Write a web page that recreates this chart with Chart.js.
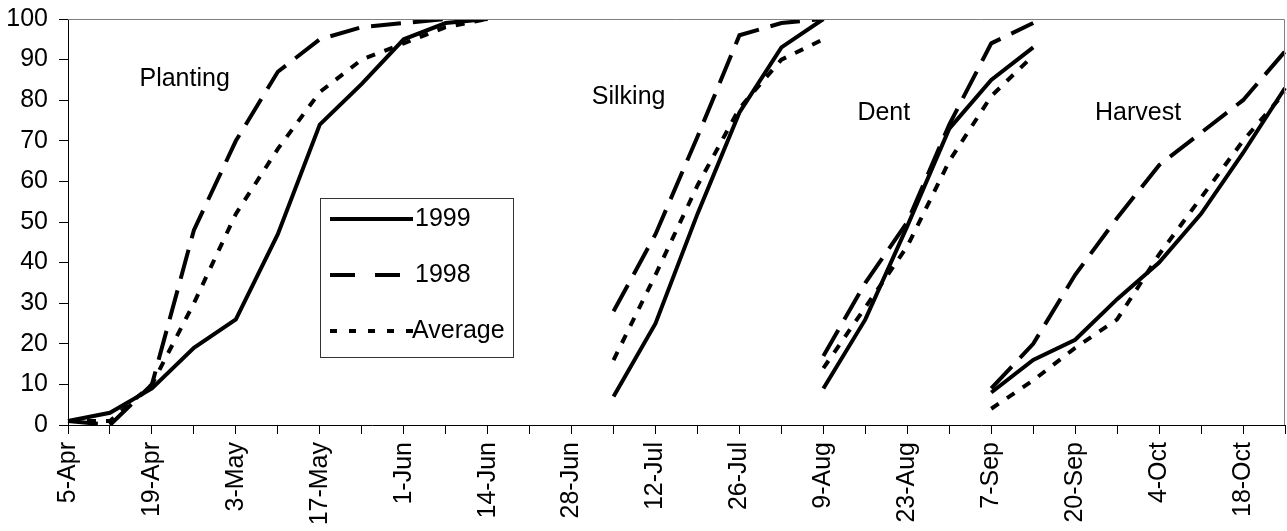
<!DOCTYPE html>
<html>
<head>
<meta charset="utf-8">
<title>Crop progress</title>
<script src="https://cdn.jsdelivr.net/npm/chart.js@4.4.1/dist/chart.umd.min.js"></script>
<style>
    html, body { margin: 0; padding: 0; background: #fff; }
    #wrap { width: 1287px; height: 531px; }
</style>
</head>
<body>
<div id="wrap"><canvas id="progressChart" width="1287" height="531"></canvas></div>
<script>
// ------------------ DATA ------------------
const weeks = ['5-Apr', '12-Apr', '19-Apr', '26-Apr', '3-May', '10-May', '17-May', '24-May',
    '1-Jun', '7-Jun', '14-Jun', '21-Jun', '28-Jun', '5-Jul', '12-Jul', '19-Jul', '26-Jul',
    '2-Aug', '9-Aug', '16-Aug', '23-Aug', '30-Aug', '7-Sep', '13-Sep', '20-Sep', '27-Sep',
    '4-Oct', '11-Oct', '18-Oct', '25-Oct'];

// first week index of each stage
const plantingStart = 0;
const silkingStart = 13;
const dentStart = 18;
const harvestStart = 22;

const planting1999 = [1, 3, 9, 19, 26, 47, 74, 84, 95, 99, 100];
const planting1998 = [1, 0, 10, 48, 70, 87, 95, 98, 99, 100, 100];
const plantingAvg  = [1, 1, 10, 30, 52, 68, 82, 90, 94, 98, 100];

const silking1999 = [7, 25, 52, 77, 93, 100];
const silking1998 = [28, 47, 71, 96, 99, 100];
const silkingAvg  = [16, 37, 59, 78, 90, 95];

const dent1999 = [9, 26, 49, 73, 85, 93];
const dent1998 = [17, 35, 50, 74, 94, 99];
const dentAvg  = [14, 29, 44, 65, 81, 91];

const harvest1999 = [8, 16, 21, 31, 40, 52, 67, 83];
const harvest1998 = [9, 20, 37, 51, 64, 72, 80, 92];
const harvestAvg  = [4, 11, 19, 26, 42, 56, 70, 82];

const seriesNames = ['1999', '1998', 'Average'];
const stageNames = ['Planting', 'Silking', 'Dent', 'Harvest'];

// ------------------ STYLES ------------------
const FONT = "'Liberation Sans', Arial, sans-serif";
const FONT_SIZE = 25;
const lineStyles = {
    '1999': [],
    '1998': [30, 12],
    'Average': [9, 10]
};

// place a stage's values on the full week axis
function padSeries(start, values) {
    const out = new Array(weeks.length).fill(null);
    values.forEach((v, i) => { out[start + i] = v; });
    return out;
}

const stageData = [
    [plantingStart, [planting1999, planting1998, plantingAvg]],
    [silkingStart, [silking1999, silking1998, silkingAvg]],
    [dentStart, [dent1999, dent1998, dentAvg]],
    [harvestStart, [harvest1999, harvest1998, harvestAvg]]
];

const datasets = [];
stageData.forEach(([start, series], s) => {
    series.forEach((values, k) => {
        datasets.push({
            label: seriesNames[k] + ' ' + stageNames[s],
            data: padSeries(start, values),
            borderColor: '#000',
            borderWidth: 4,
            borderDash: lineStyles[seriesNames[k]],
            borderCapStyle: 'butt',
            pointRadius: 0,
            tension: 0,
            spanGaps: false,
            fill: false
        });
    });
});

// ------------------ STAGE LABELS + LEGEND ------------------
const stageLabelPos = [
    { text: 'Planting', x: 2.78, y: 85.3 },
    { text: 'Silking', x: 13.36, y: 80.8 },
    { text: 'Dent', x: 19.44, y: 76.7 },
    { text: 'Harvest', x: 25.5, y: 76.7 }
];

const overlayPlugin = {
    id: 'overlay',
    afterDraw(chart) {
        const ctx = chart.ctx;
        const area = chart.chartArea;
        const xs = chart.scales.x;
        const ys = chart.scales.y;
        ctx.save();

        // grey frame on top and right of plot area
        ctx.strokeStyle = '#808080';
        ctx.lineWidth = 1;
        ctx.beginPath();
        ctx.moveTo(area.left, area.top + 0.5);
        ctx.lineTo(area.right - 0.5, area.top + 0.5);
        ctx.lineTo(area.right - 0.5, area.bottom);
        ctx.stroke();

        // stage names
        ctx.fillStyle = '#000';
        ctx.font = FONT_SIZE + 'px ' + FONT;
        ctx.textAlign = 'center';
        ctx.textBaseline = 'middle';
        stageLabelPos.forEach(l => {
            ctx.fillText(l.text, xs.getPixelForValue(l.x), ys.getPixelForValue(l.y));
        });

        // legend box
        const bx = 320, by = 198, bw = 193, bh = 159;
        ctx.fillStyle = '#fff';
        ctx.fillRect(bx, by, bw, bh);
        ctx.strokeStyle = '#333';
        ctx.lineWidth = 1;
        ctx.strokeRect(bx + 0.5, by + 0.5, bw, bh);

        const rows = [219, 275, 331];
        seriesNames.forEach((name, i) => {
            ctx.strokeStyle = '#000';
            ctx.lineWidth = 4;
            ctx.lineCap = 'butt';
            ctx.setLineDash(name === '1998' ? [25, 20] : (name === 'Average' ? [7, 12] : []));
            ctx.beginPath();
            ctx.moveTo(330, rows[i]);
            ctx.lineTo(413, rows[i]);
            ctx.stroke();
            ctx.setLineDash([]);
            ctx.fillStyle = '#000';
            ctx.textAlign = 'left';
            ctx.fillText(name, name === 'Average' ? 412 : 415, rows[i]);
        });
        ctx.restore();
    }
};

// ------------------ CHART ------------------
const ctx = document.getElementById('progressChart').getContext('2d');
new Chart(ctx, {
    type: 'line',
    data: { labels: weeks, datasets: datasets },
    options: {
        responsive: false,
        animation: false,
        devicePixelRatio: 1,
        layout: { padding: { top: 19, right: 2, left: 0, bottom: 0 } },
        plugins: {
            legend: { display: false },
            tooltip: { enabled: false }
        },
        scales: {
            x: {
                type: 'category',
                offset: false,
                afterFit: s => {
                    s.height = 106;
                    s.paddingLeft = 0;
                    s.paddingRight = 0;
                },
                grid: {
                    offset: false,
                    drawOnChartArea: false,
                    drawTicks: true,
                    tickLength: 9,
                    color: '#000'
                },
                border: { display: true, color: '#000', width: 1 },
                ticks: {
                    autoSkip: false,
                    minRotation: 90,
                    maxRotation: 90,
                    padding: 8,
                    color: '#000',
                    font: { family: FONT, size: FONT_SIZE },
                    callback: (v, i) => (i % 2 === 0 ? weeks[i] : '')
                }
            },
            y: {
                min: 0,
                max: 100,
                afterFit: s => {
                    s.width = 68;
                    s.paddingTop = 0;
                    s.paddingBottom = 0;
                },
                grid: {
                    drawOnChartArea: false,
                    drawTicks: true,
                    tickLength: 9,
                    color: '#000'
                },
                border: { display: true, color: '#000', width: 1 },
                ticks: {
                    stepSize: 10,
                    padding: 11,
                    color: '#000',
                    font: { family: FONT, size: FONT_SIZE }
                }
            }
        }
    },
    plugins: [overlayPlugin]
});
</script>
</body>
</html>
